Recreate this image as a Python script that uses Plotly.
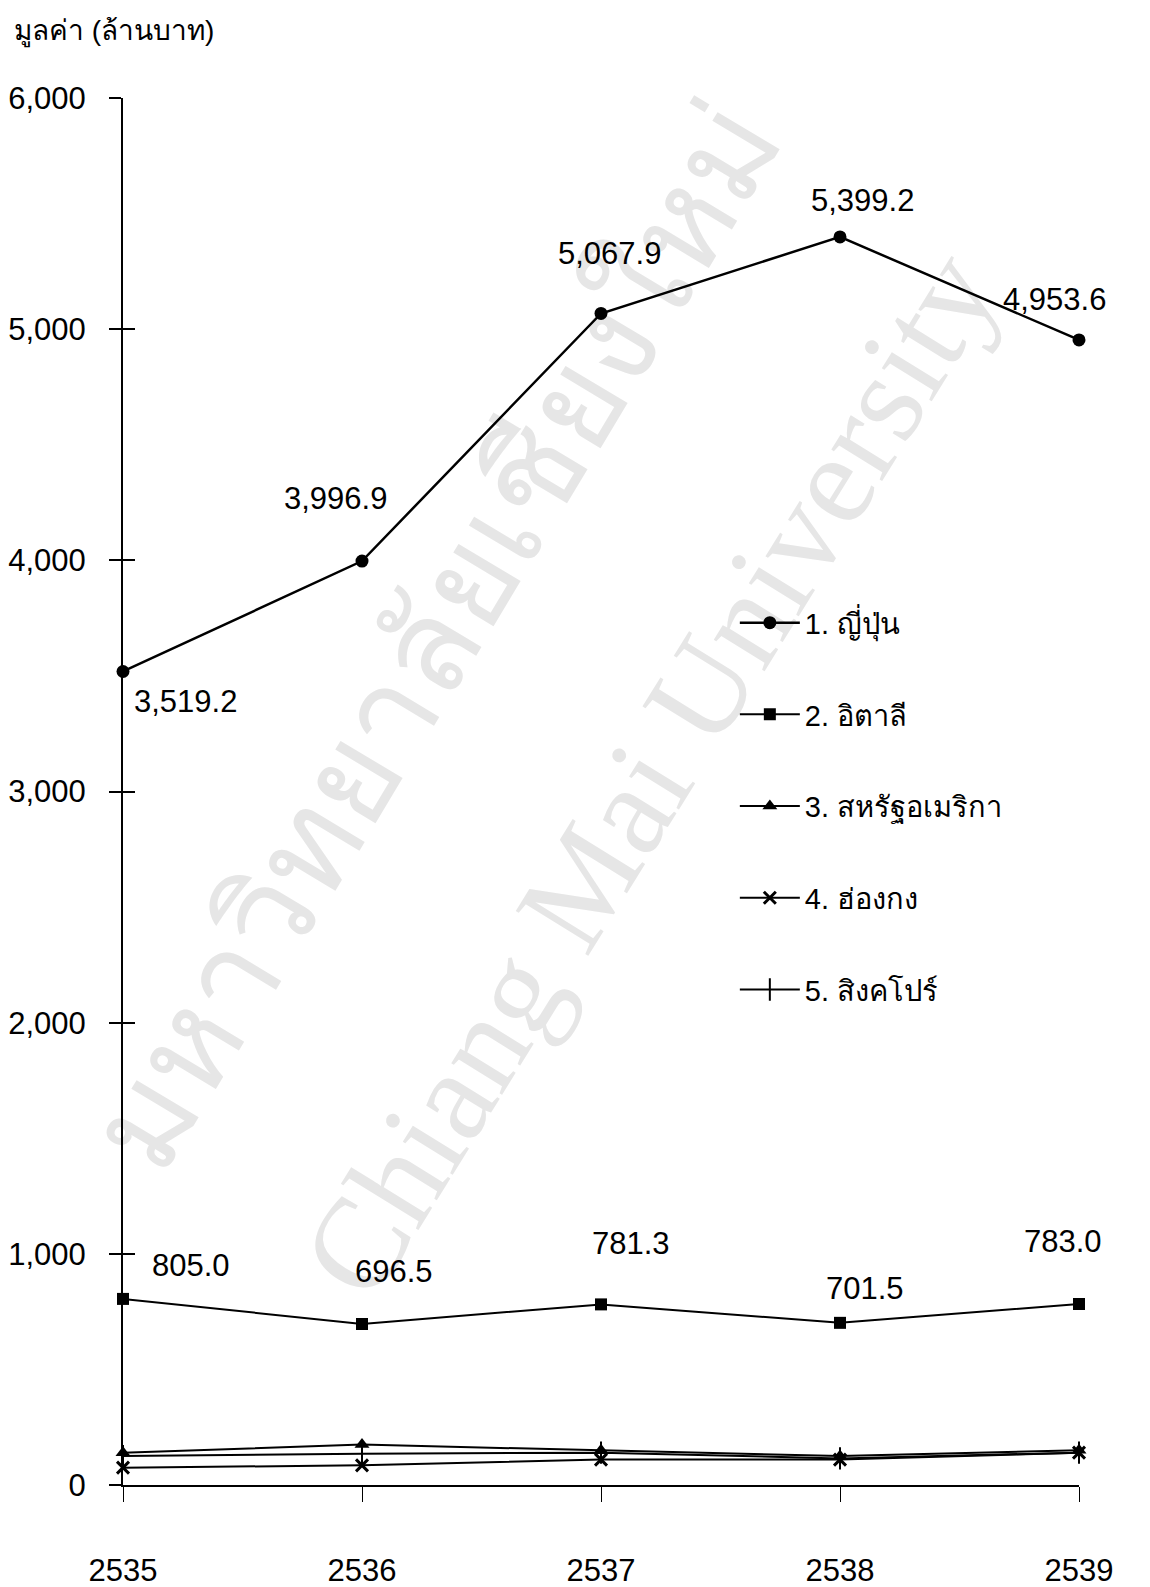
"""กราฟมูลค่าการส่งออก 5 ประเทศ ปี 2535-2539."""

import plotly.graph_objects as go

years = [2535, 2536, 2537, 2538, 2539]
japan = [3519.2, 3996.9, 5067.9, 5399.2, 4953.6]
italy = [805.0, 696.5, 781.3, 701.5, 783.0]
usa = [140, 175, 150, 125, 150]
hongkong = [75, 85, 110, 110, 140]
singapore = [125, 135, 140, 115, 140]

y_ticks = [0, 1000, 2000, 3000, 4000, 5000, 6000]

FONT = "Liberation Sans, Arial, Noto Sans, DejaVu Sans, sans-serif"
FS = 31

series = [
    ("1. ญี่ปุ่น", japan, dict(symbol="circle", size=13, color="black"), 2.5),
    ("2. อิตาลี", italy, dict(symbol="square", size=12, color="black"), 2),
    ("3. สหรัฐอเมริกา", usa, dict(symbol="triangle-up", size=13, color="black"), 2),
    ("4. ฮ่องกง", hongkong, dict(symbol="x-thin", size=12, color="black",
                                 line=dict(width=3, color="black")), 2),
    ("5. สิงคโปร์", singapore, dict(symbol="line-ns", size=16, color="black",
                                    line=dict(width=2, color="black")), 2),
]

fig = go.Figure()
for i, (name, vals, marker, lw) in enumerate(series):
    fig.add_trace(
        go.Scatter(
            x=years,
            y=vals,
            name=name,
            mode="lines+markers",
            line=dict(color="black", width=lw),
            marker=marker,
            legendgroup=f"g{i}",
            cliponaxis=False,
        )
    )
# ใช้แกน y2 เพื่อให้ขีดแบ่งตัดผ่านแกน
fig.add_trace(go.Scatter(x=[None], y=[None], yaxis="y2", showlegend=False,
                         hoverinfo="skip"))

# ป้ายค่าข้อมูล (ญี่ปุ่น, อิตาลี)
japan_shift = [(62, -30), (-27, 63), (8, 60), (22, 36), (-25, 40)]
italy_shift = [(68, 33), (32, 52), (30, 61), (25, 34), (-16, 63)]
annotations = []
for vals, shifts in ((japan, japan_shift), (italy, italy_shift)):
    for x, v, (dx, dy) in zip(years, vals, shifts):
        annotations.append(dict(
            x=x, y=v, text=f"{v:,.1f}", showarrow=False,
            xshift=dx, yshift=dy, font=dict(family=FONT, size=FS, color="black"),
        ))

annotations.append(dict(
    x=-0.116, y=1.048, xref="paper", yref="paper", xanchor="left", yanchor="middle",
    text="มูลค่า (ล้านบาท)", showarrow=False,
    font=dict(family=FONT, size=28, color="black"),
))

# ลายน้ำ (ข้อความบนเส้นล่องหน วางใต้กราฟ)
WM = "#e6e6e6"
shapes = [
    dict(type="line", xref="paper", yref="paper", layer="below",
         x0=0.047, y0=0.204, x1=0.717, y1=0.974, line=dict(width=0, color="white"),
         label=dict(text="มหาวิทยาลัยเชียงใหม่", textposition="middle",
                    font=dict(family="Liberation Serif, serif", size=130, color=WM))),
    dict(type="line", xref="paper", yref="paper", layer="below",
         x0=0.25, y0=0.095, x1=0.96, y1=0.885, line=dict(width=0, color="white"),
         label=dict(text="Chiang Mai University", textposition="middle",
                    font=dict(family="Liberation Serif, serif", size=130, color=WM))),
]

# หน้าเว็บมีขอบ body 8px จึงลดขนาดรูปและขอบลงชดเชย
fig.update_layout(
    width=1142,
    height=1579,
    paper_bgcolor="white",
    plot_bgcolor="white",
    margin=dict(l=115, r=71, t=90, b=102, autoexpand=False),
    font=dict(family=FONT, size=FS, color="black"),
    showlegend=True,
    legend=dict(
        x=0.64, y=0.64, xanchor="left", yanchor="top",
        bgcolor="rgba(0,0,0,0)", tracegroupgap=51,
        font=dict(family=FONT, size=29, color="black"),
        itemwidth=60,
    ),
    annotations=annotations,
    shapes=shapes,
    xaxis=dict(
        range=[2535, 2539], tickvals=years, ticktext=[str(y) for y in years],
        showgrid=False, zeroline=False, showline=True, linecolor="black", linewidth=1.5,
        ticks="outside", ticklen=15, tickcolor="black", tickwidth=1,
        ticklabelstandoff=42, automargin=False,
    ),
    yaxis=dict(
        range=[0, 6000], tickvals=y_ticks, tickformat=",",
        showgrid=False, zeroline=False, showline=True, linecolor="black", linewidth=2,
        ticks="outside", ticklen=12, tickcolor="black", tickwidth=1.5,
        ticklabelstandoff=17, automargin=False,
    ),
    yaxis2=dict(
        range=[0, 6000], tickvals=y_ticks, overlaying="y", anchor="x", side="left",
        showgrid=False, zeroline=False, showline=False, showticklabels=False,
        ticks="inside", ticklen=12, tickcolor="black", tickwidth=1.5,
        automargin=False,
    ),
)

fig.write_html("out.html")
